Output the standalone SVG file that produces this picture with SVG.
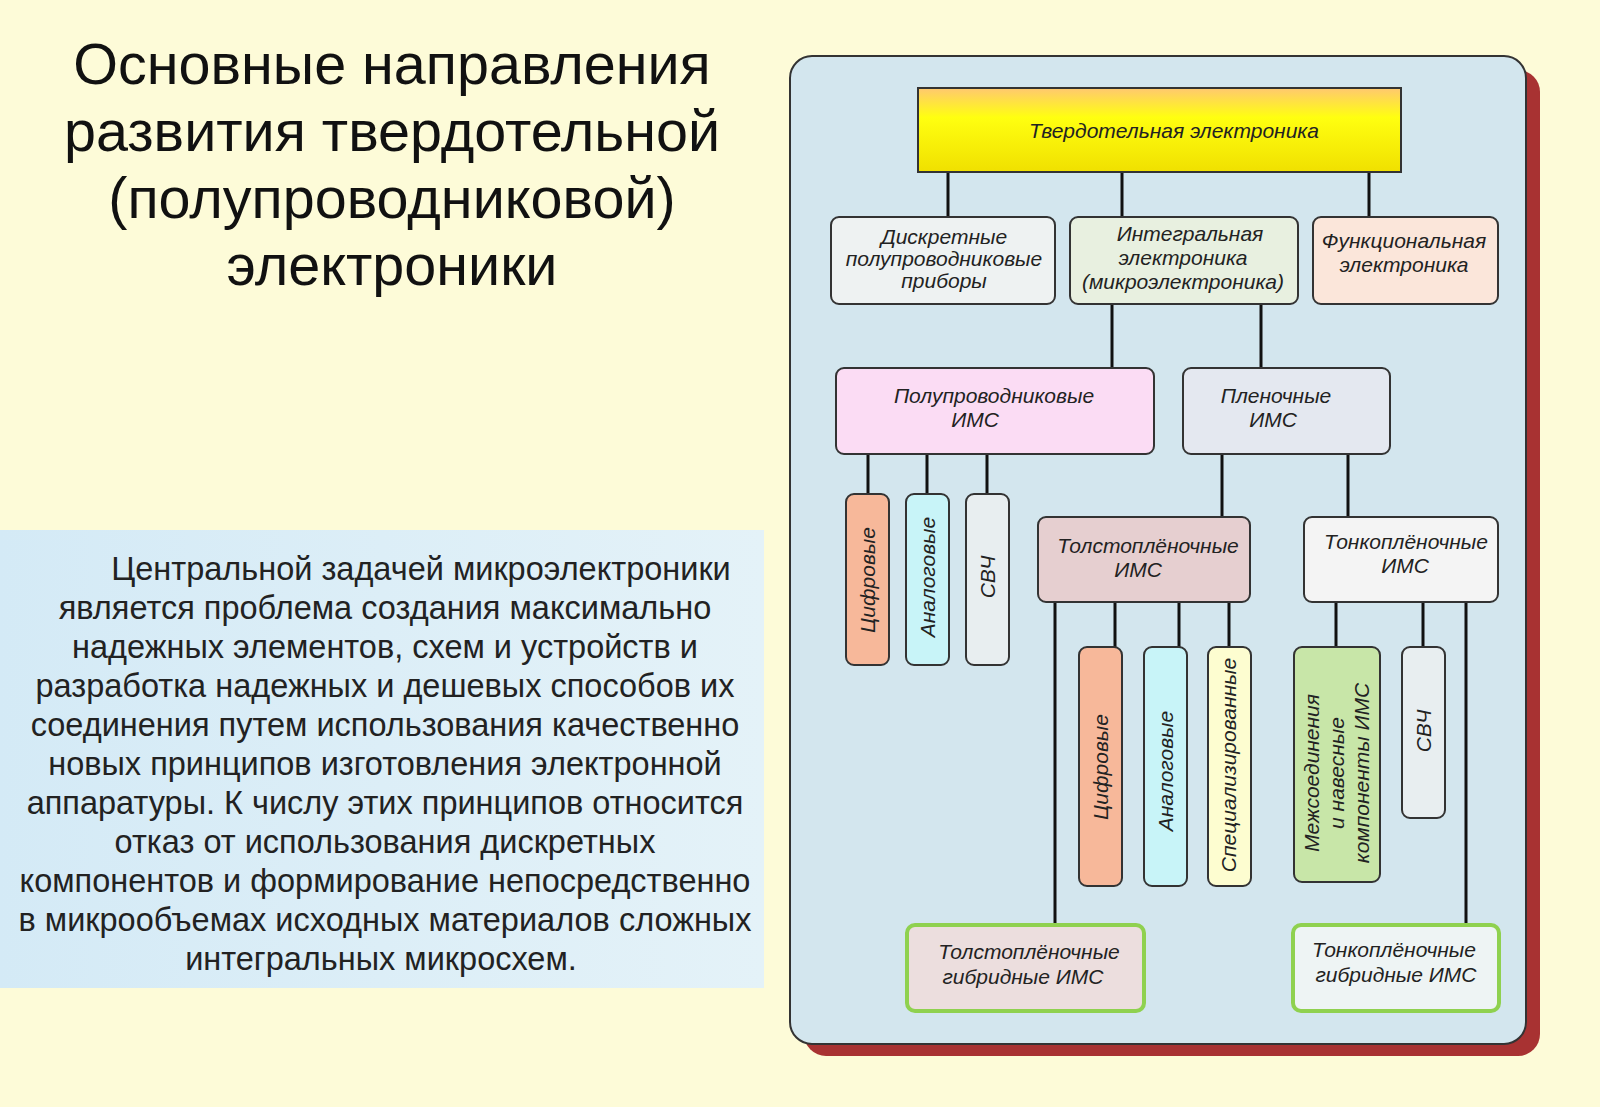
<svg xmlns="http://www.w3.org/2000/svg" width="1600" height="1107" viewBox="0 0 1600 1107">
<defs>
<linearGradient id="yel" x1="0" y1="0" x2="0" y2="1"><stop offset="0" stop-color="#ffc870"/><stop offset="0.35" stop-color="#ffff10"/><stop offset="1" stop-color="#f0e000"/></linearGradient>
<linearGradient id="txt" x1="0" y1="0" x2="1" y2="0"><stop offset="0" stop-color="#d4eaf6"/><stop offset="1" stop-color="#e4f2f8"/></linearGradient>
</defs>
<style>
.n{stroke:#333;stroke-width:2}
.g{stroke:#8fd14f;stroke-width:4}
.t{font-family:"Liberation Sans",Arial,sans-serif;font-style:italic;font-size:21px;fill:#222;text-anchor:middle}
.c line{stroke:#111;stroke-width:3}
</style>
<rect width="1600" height="1107" fill="#fdfbd8"/>
<g id="title" font-family="Liberation Sans,Arial,sans-serif" font-size="57.5" text-anchor="middle" fill="#111">
<text x="392" y="84">Основные направления</text>
<text x="392" y="151">развития твердотельной</text>
<text x="392" y="218">(полупроводниковой)</text>
<text x="392" y="285">электроники</text>
</g>
<g id="textbox">
<rect x="0" y="530" width="764" height="458" fill="url(#txt)"/>
<g font-family="Liberation Sans,Arial,sans-serif" font-size="32.5" text-anchor="middle" fill="#222">
<text x="421" y="580">Центральной задачей микроэлектроники</text>
<text x="385" y="619">является проблема создания максимально</text>
<text x="385" y="658">надежных элементов, схем и устройств и</text>
<text x="385" y="697">разработка надежных и дешевых способов их</text>
<text x="385" y="736">соединения путем использования качественно</text>
<text x="385" y="775">новых принципов изготовления электронной</text>
<text x="385" y="814">аппаратуры. К числу этих принципов относится</text>
<text x="385" y="853">отказ от использования дискретных</text>
<text x="385" y="892">компонентов и формирование непосредственно</text>
<text x="385" y="931">в микрообъемах исходных материалов сложных</text>
<text x="381" y="970">интегральных микросхем.</text>
</g>
</g>
<g id="panel">
<rect x="804" y="70" width="736" height="986" rx="22" fill="#a83232"/>
<rect x="790" y="56" width="736" height="988" rx="22" fill="#d3e6ee" stroke="#333" stroke-width="2"/>
</g>
<g class="c" id="connectors">
<line x1="948" y1="172" x2="948" y2="217"/><line x1="1122" y1="172" x2="1122" y2="217"/><line x1="1369" y1="172" x2="1369" y2="217"/>
<line x1="1112" y1="304" x2="1112" y2="368"/><line x1="1261" y1="304" x2="1261" y2="368"/>
<line x1="868" y1="454" x2="868" y2="494"/><line x1="927" y1="454" x2="927" y2="494"/><line x1="987" y1="454" x2="987" y2="494"/>
<line x1="1222" y1="454" x2="1222" y2="517"/><line x1="1348" y1="454" x2="1348" y2="517"/>
<line x1="1055" y1="602" x2="1055" y2="925"/><line x1="1115" y1="602" x2="1115" y2="647"/><line x1="1179" y1="602" x2="1179" y2="647"/><line x1="1229" y1="602" x2="1229" y2="647"/>
<line x1="1336" y1="602" x2="1336" y2="647"/><line x1="1423" y1="602" x2="1423" y2="647"/><line x1="1466" y1="602" x2="1466" y2="925"/>
</g>
<g id="n-top"><rect x="918" y="88" width="483" height="84" fill="url(#yel)" class="n"/><text x="1174" y="138" class="t" font-size="32">Твердотельная электроника</text></g>
<g id="n-disc"><rect x="831" y="217" width="224" height="87" rx="8" fill="#eef2f2" class="n"/><text class="t" x="944" y="244">Дискретные<tspan x="944" dy="22">полупроводниковые</tspan><tspan x="944" dy="22">приборы</tspan></text></g>
<g id="n-int"><rect x="1070" y="217" width="228" height="87" rx="8" fill="#e8f0e0" class="n"/><text class="t" x="1190" y="241">Интегральная<tspan x="1183" dy="24">электроника</tspan><tspan x="1183" dy="24">(микроэлектроника)</tspan></text></g>
<g id="n-func"><rect x="1313" y="217" width="185" height="87" rx="8" fill="#fbe6da" class="n"/><text class="t" x="1404" y="248">Функциональная<tspan x="1404" dy="24">электроника</tspan></text></g>
<g id="n-pp"><rect x="836" y="368" width="318" height="86" rx="8" fill="#fbdcf4" class="n"/><text class="t" x="994" y="403">Полупроводниковые<tspan x="975" dy="24">ИМС</tspan></text></g>
<g id="n-pl"><rect x="1183" y="368" width="207" height="86" rx="8" fill="#e4e8f0" class="n"/><text class="t" x="1276" y="403">Пленочные<tspan x="1273" dy="24">ИМС</tspan></text></g>
<g id="n-c1"><rect x="846" y="494" width="43" height="171" rx="8" fill="#f7b89a" class="n"/><text class="t" transform="translate(875,580) rotate(-90)">Цифровые</text></g>
<g id="n-a1"><rect x="906" y="494" width="43" height="171" rx="8" fill="#c8f4f8" class="n"/><text class="t" transform="translate(935,577) rotate(-90)">Аналоговые</text></g>
<g id="n-s1"><rect x="966" y="494" width="43" height="171" rx="8" fill="#e8eef0" class="n"/><text class="t" transform="translate(995,577) rotate(-90)">СВЧ</text></g>
<g id="n-tol"><rect x="1038" y="517" width="212" height="85" rx="8" fill="#e6cfd0" class="n"/><text class="t" x="1148" y="553">Толстоплёночные<tspan x="1138" dy="24">ИМС</tspan></text></g>
<g id="n-ton"><rect x="1304" y="517" width="194" height="85" rx="8" fill="#f4f4f4" class="n"/><text class="t" x="1406" y="549">Тонкоплёночные<tspan x="1405" dy="24">ИМС</tspan></text></g>
<g id="n-c2"><rect x="1079" y="647" width="43" height="239" rx="8" fill="#f7b89a" class="n"/><text class="t" transform="translate(1108,767) rotate(-90)">Цифровые</text></g>
<g id="n-a2"><rect x="1144" y="647" width="43" height="239" rx="8" fill="#c8f4f8" class="n"/><text class="t" transform="translate(1173,771) rotate(-90)">Аналоговые</text></g>
<g id="n-sp"><rect x="1208" y="647" width="43" height="239" rx="8" fill="#fdfdd0" class="n"/><text class="t" transform="translate(1236,765) rotate(-90)">Специализированные</text></g>
<g id="n-mz"><rect x="1294" y="647" width="86" height="235" rx="8" fill="#c8e6a8" class="n"/><text class="t" transform="translate(1319,773) rotate(-90)">Межсоединения<tspan x="0" dy="25">и навесные</tspan><tspan x="0" dy="25">компоненты ИМС</tspan></text></g>
<g id="n-s2"><rect x="1402" y="647" width="43" height="171" rx="8" fill="#e8eef0" class="n"/><text class="t" transform="translate(1431,731) rotate(-90)">СВЧ</text></g>
<g id="n-th"><rect x="907" y="925" width="237" height="86" rx="8" fill="#ecdede" class="g"/><text class="t" x="1029" y="959">Толстоплёночные<tspan x="1023" dy="25">гибридные ИМС</tspan></text></g>
<g id="n-tnh"><rect x="1293" y="925" width="206" height="86" rx="8" fill="#eef4f4" class="g"/><text class="t" x="1394" y="957">Тонкоплёночные<tspan x="1396" dy="25">гибридные ИМС</tspan></text></g>
</svg>
